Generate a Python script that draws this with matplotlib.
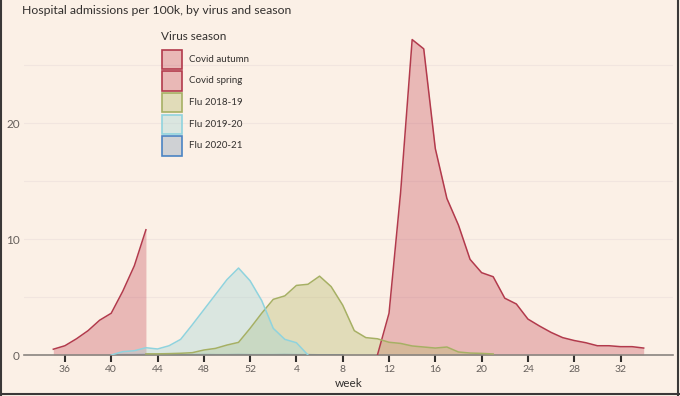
import matplotlib
matplotlib.use("Agg")
import matplotlib.pyplot as plt
from matplotlib.patches import Rectangle
from matplotlib.lines import Line2D

plt.rcParams['font.family'] = ['Lato', 'DejaVu Sans']

# season weeks run 35..52 then 1..34
def pos(w):
    return w if w >= 35 else w + 52

autumn_weeks = [35, 36, 37, 38, 39, 40, 41, 42, 43]
autumn_vals = [0.5, 0.8, 1.4, 2.1, 3.0, 3.6, 5.5, 7.7, 10.8]

spring_weeks = list(range(11, 35))
spring_vals = [0, 3.6, 14.0, 27.2, 26.4, 17.8, 13.5, 11.2, 8.25, 7.1, 6.75, 4.9,
               4.4, 3.1, 2.5, 1.95, 1.5, 1.25, 1.06, 0.8, 0.8, 0.72, 0.72, 0.6]

flu1819_weeks = list(range(43, 53)) + list(range(1, 22))
flu1819_vals = [0.1, 0.1, 0.12, 0.15, 0.2, 0.43, 0.57, 0.86, 1.09, 2.3,
                3.6, 4.8, 5.1, 6.0, 6.1, 6.8, 5.9, 4.3, 2.1, 1.5, 1.4, 1.1,
                1.0, 0.78, 0.69, 0.6, 0.69, 0.26, 0.17, 0.14, 0.09]

flu1920_weeks = list(range(40, 53)) + list(range(1, 6))
flu1920_vals = [0, 0.29, 0.37, 0.63, 0.52, 0.8, 1.35, 2.6, 3.9, 5.2, 6.5, 7.5,
                6.4, 4.7, 2.3, 1.35, 1.06, 0]

flu2021_weeks = list(range(40, 53)) + list(range(1, 9))
flu2021_vals = [0.02, 0.03, 0.03, 0.04, 0.03, 0.04, 0.03, 0.03, 0.04, 0.03, 0.03,
                0.04, 0.03, 0.03, 0.03, 0.04, 0.03, 0.03, 0.02, 0.02, 0.02]

tick_weeks = [36, 40, 44, 48, 52, 4, 8, 12, 16, 20, 24, 28, 32]

series = [
    ("Covid autumn", autumn_weeks, autumn_vals, "#b23a4c", "#c8505f", 3),
    ("Covid spring", spring_weeks, spring_vals, "#b23a4c", "#c8505f", 3),
    ("Flu 2018-19", flu1819_weeks, flu1819_vals, "#a6b064", "#b3b866", 3),
    ("Flu 2019-20", flu1920_weeks, flu1920_vals, "#8fd3de", "#9fd5d6", 3),
    ("Flu 2020-21", flu2021_weeks, flu2021_vals, "#4a84c4", "#7f98b5", 1.5),
]

bg = "#fbf0e6"
ink = "#33302e"
W, H = 680, 396
fig = plt.figure(figsize=(6.8, 3.96), dpi=100, facecolor=bg)
ax = fig.add_axes([0.035, 0.1035, 0.955, 0.82])
ax.set_facecolor(bg)

for name, wks, vals, edge, fillc, z in series:
    x = [pos(w) for w in wks]
    ax.fill_between(x, 0, vals, color=fillc, alpha=0.35, lw=0, zorder=2)
    ax.plot(x, vals, color=edge, lw=1.1, zorder=z)

ax.set_xlim(32.45, 88.55)
ax.set_ylim(0, 28)
ax.set_yticks([0, 10, 20])
ax.set_yticks([5, 15, 25], minor=True)
ax.grid(axis='y', which='both', color='#f1e5df', lw=0.8, zorder=0)
ax.set_xticks([pos(w) for w in tick_weeks])
ax.set_xticklabels([str(w) for w in tick_weeks])
ax.tick_params(axis='x', length=5, width=1.5, color=ink, labelsize=7.5,
               labelcolor='#66605c', pad=2)
ax.tick_params(axis='y', which='both', length=0, labelsize=8.5,
               labelcolor='#66605c', pad=3)
for s in ['top', 'right', 'left']:
    ax.spines[s].set_visible(False)
ax.spines['bottom'].set_color('#8a8580')
ax.spines['bottom'].set_linewidth(1.2)
ax.set_xlabel('week', fontsize=8.5, color=ink, labelpad=3)

fig.text(22 / W, 1 - 10 / H, "Hospital admissions per 100k, by virus and season",
         fontsize=8.8, color=ink, va='center', ha='left')

# legend, drawn by hand to get the tall square keys
fig.text(161 / W, 1 - 36 / H, "Virus season", fontsize=8.5, color=ink,
         va='center', ha='left')
for i, (name, wks, vals, edge, fillc, z) in enumerate(series):
    top = 49 + i * 21.7
    fig.add_artist(Rectangle((162 / W, 1 - (top + 20) / H), 19.5 / W, 19.5 / H,
                             transform=fig.transFigure,
                             facecolor=matplotlib.colors.to_rgba(fillc, 0.35),
                             edgecolor=edge, lw=1.2))
    fig.text(189 / W, 1 - (top + 10) / H, name, fontsize=7, color=ink,
             va='center', ha='left')

# screenshot frame
for xs, ys in [([0.002, 0.002], [0, 1]), ([0.997, 0.997], [0, 1]), ([0, 1], [0.006, 0.006])]:
    fig.add_artist(Line2D(xs, ys, transform=fig.transFigure, color='#3a3838', lw=1.5))

fig.savefig("out.png", dpi=100, facecolor=bg)
